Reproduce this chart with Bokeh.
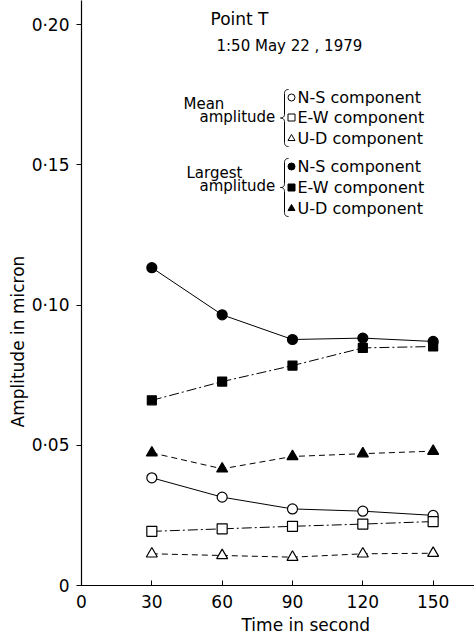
import numpy as np
from bokeh.plotting import figure
from bokeh.models import FixedTicker, CustomJSTickFormatter, Range1d, Label, Title
from bokeh.embed import file_html
from bokeh.resources import INLINE

# ---- data ----
times = [30, 60, 90, 120, 150]
mean_ns = [0.0384, 0.0315, 0.0273, 0.0265, 0.0250]
mean_ew = [0.0193, 0.0202, 0.0211, 0.0219, 0.0228]
mean_ud = [0.0113, 0.0107, 0.0101, 0.0113, 0.0115]
large_ns = [0.1133, 0.0965, 0.0877, 0.0882, 0.0870]
large_ew = [0.0660, 0.0727, 0.0784, 0.0847, 0.0852]
large_ud = [0.0473, 0.0416, 0.0460, 0.0470, 0.0479]
x_ticks = [0, 30, 60, 90, 120, 150]
y_ticks = [0, 0.05, 0.10, 0.15, 0.20]
title_text = "Point T"
date_text = "1:50  May 22 , 1979"
components = ["N-S component", "E-W component", "U-D component"]
x_label = "Time in second"
y_label = "Amplitude in micron"

FONT = "DejaVu Sans"
W, H = 474, 639
X0, Y0 = 81, 585                 # frame left / bottom in pixels
XS = 70.33 / 30
YS = 2805.0
XMAX = (W - X0) / XS
YMAX = Y0 / YS

p = figure(width=W, height=H, output_backend="svg", toolbar_location=None,
           x_range=Range1d(0, XMAX), y_range=Range1d(0, YMAX),
           min_border_left=X0, min_border_right=0, min_border_top=0,
           min_border_bottom=H - Y0)
p.outline_line_color = None
p.xgrid.visible = False
p.ygrid.visible = False
p.background_fill_color = "white"
p.border_fill_color = "white"

p.xaxis.ticker = FixedTicker(ticks=x_ticks)
p.yaxis.ticker = FixedTicker(ticks=y_ticks)
p.yaxis.formatter = CustomJSTickFormatter(
    code='return tick == 0 ? "0" : tick.toFixed(2).replace(".", "\u00b7");')
for ax in (p.xaxis, p.yaxis):
    ax.axis_line_color = "black"
    ax.axis_line_width = 1.2
    ax.major_tick_line_color = "black"
    ax.minor_tick_line_color = None
    ax.major_label_text_font = FONT
    ax.major_label_text_font_size = "17px"
    ax.major_label_text_color = "black"
p.xaxis.major_tick_in = 5
p.xaxis.major_tick_out = 0
p.yaxis.major_tick_in = 0
p.yaxis.major_tick_out = 5
p.xaxis.major_label_standoff = 9
p.yaxis.major_label_standoff = 7

# axis titles (side titles so they can be shifted along the axis)
p.add_layout(Title(text=y_label, align="left", offset=158, text_font=FONT,
                   text_font_size="17px", text_font_style="normal",
                   text_color="black", standoff=2), "left")
p.add_layout(Title(text=x_label, align="left", offset=160, text_font=FONT,
                   text_font_size="17px", text_font_style="normal",
                   text_color="black", standoff=4), "below")

# ---- series ----
def series(y, dash, marker, filled, size):
    p.line(times, y, line_color="black", line_width=1, line_dash=dash)
    p.scatter(times, y, marker=marker, size=size, line_color="black",
              fill_color="black" if filled else "white", line_width=1.2)

series(large_ns, "solid", "circle", True, 10)
series(large_ew, "10 3 2 3", "square", True, 9)
series(large_ud, "6 4", "triangle", True, 11)
series(mean_ns, "solid", "circle", False, 10)
series(mean_ew, "10 3 2 3", "square", False, 10)
series(mean_ud, "6 4", "triangle", False, 11)

# ---- annotations (pixel helpers) ----
def dx(px):
    return (px - X0) / XS
def dy(py):
    return (Y0 - py) / YS

def txt(px, py, s, size, align="left"):
    p.add_layout(Label(x=dx(px), y=dy(py), text=s, text_font=FONT,
                       text_font_size=size, text_baseline="middle",
                       text_align=align, text_color="black"))

txt(210, 18, title_text, "17px")
txt(216, 45, date_text, "15px")

def brace(xc, top, bot):
    mid = (top + bot) / 2
    def qb(p0, p1, p2, n=12):
        t = np.linspace(0, 1, n)[:, None]
        return (1 - t) ** 2 * np.array(p0) + 2 * (1 - t) * t * np.array(p1) + t ** 2 * np.array(p2)
    pts = np.vstack([
        qb((xc + 4, top), (xc, top), (xc, top + 4)),
        qb((xc, mid - 4), (xc, mid), (xc - 4, mid)),
        qb((xc - 4, mid), (xc, mid), (xc, mid + 4)),
        qb((xc, bot - 4), (xc, bot), (xc + 4, bot)),
    ])
    p.line([dx(v) for v in pts[:, 0]], [dy(v) for v in pts[:, 1]],
           line_color="black", line_width=1)

# mean amplitude legend
rows_mean = [97, 117, 138]
txt(183, 103, "Mean", "15px")
txt(199, 116, "amplitude", "15px")
brace(284, 89, 146)
for ry, mk, lab in zip(rows_mean, ["circle", "square", "triangle"], components):
    p.scatter([dx(291)], [dy(ry)], marker=mk, size=7, line_color="black",
              fill_color="white", line_width=1)
    txt(297, ry, lab, "16px")

# largest amplitude legend
rows_large = [166, 187, 208]
txt(186, 172, "Largest", "15px")
txt(199, 185, "amplitude", "15px")
brace(284, 158, 216)
for ry, mk, lab in zip(rows_large, ["circle", "square", "triangle"], components):
    p.scatter([dx(291)], [dy(ry)], marker=mk, size=7, line_color="black",
              fill_color="black", line_width=1)
    txt(297, ry, lab, "16px")

open("out.html", "w").write(file_html(p, INLINE))
